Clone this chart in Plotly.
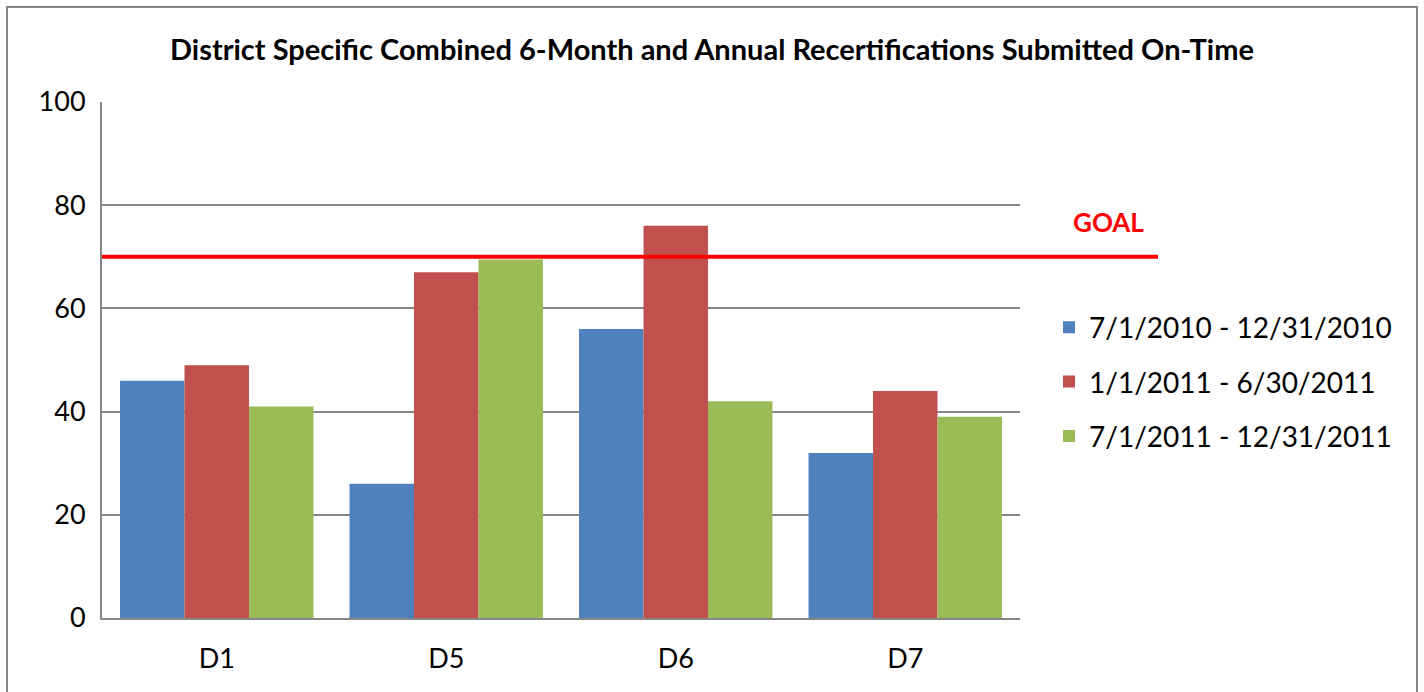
import plotly.graph_objects as go

categories = ["D1", "D5", "D6", "D7"]
series_names = ["7/1/2010 - 12/31/2010", "1/1/2011 - 6/30/2011", "7/1/2011 - 12/31/2011"]
period1 = [46, 26, 56, 32]
period2 = [49, 67, 76, 44]
period3 = [41, 69.5, 42, 39]
goal_value = 70
colors = ["#4F81BD", "#C0504D", "#9BBB59"]

W, H = 1424, 692
L, R, T, B = 102, 1020, 102, 618
pw, ph = R - L, B - T

def px_x(p):
    return (p - L) / pw

def px_y(p):
    return (B - p) / ph

fig = go.Figure()
for name, vals, c in zip(series_names, [period1, period2, period3], colors):
    fig.add_trace(go.Bar(x=categories, y=vals, name=name, marker=dict(color=c, line=dict(width=0)),
                         legendgroup=name))

font = "Lato, 'Open Sans', sans-serif"
fig.update_layout(
    width=W, height=H,
    margin=dict(l=L, r=W - R, t=T, b=H - B, autoexpand=False),
    paper_bgcolor="white", plot_bgcolor="white",
    barmode="group", bargap=0.157, bargroupgap=0,
    font=dict(family=font, size=27, color="black"),
    title=dict(text="<b>District Specific Combined 6-Month and Annual Recertifications Submitted On-Time</b>",
               x=712 / W, xref="container", xanchor="center", y=1 - 50 / H, yref="container",
               yanchor="middle",
               font=dict(family=font, size=29, color="black")),
    xaxis=dict(showline=True, linecolor="#868686", linewidth=2, ticks="", showgrid=False,
               tickfont=dict(size=27), ticklabelstandoff=16),
    yaxis=dict(range=[0, 100], dtick=20, showline=True, linecolor="#868686", linewidth=2,
               gridcolor="#868686", gridwidth=2, ticks="", zeroline=False,
               tickfont=dict(size=27), ticklabelstandoff=9),
    legend=dict(x=px_x(1049), y=px_y(382), xanchor="left", yanchor="middle",
                font=dict(size=28), tracegroupgap=15, traceorder="grouped",
                bgcolor="rgba(0,0,0,0)"),
    showlegend=True,
)

# goal line extends beyond plot area
fig.add_shape(type="line", xref="paper", yref="y", x0=0, x1=px_x(1158), y0=goal_value, y1=goal_value,
              line=dict(color="#FF0000", width=4))
fig.add_annotation(xref="paper", yref="paper", x=px_x(1108), y=px_y(222), text="<b>GOAL</b>",
                   xanchor="center", yanchor="middle",
                   showarrow=False, font=dict(family=font, size=26, color="#FF0000"))

# outer chart border
fig.add_shape(type="rect", xref="paper", yref="paper",
              x0=px_x(7), x1=px_x(1417), y0=px_y(700), y1=px_y(7),
              line=dict(color="#868686", width=2), fillcolor="rgba(0,0,0,0)", layer="below")

fig.write_html("out.html", config={"displayModeBar": False},
               post_script="document.body.style.margin='0px';")
